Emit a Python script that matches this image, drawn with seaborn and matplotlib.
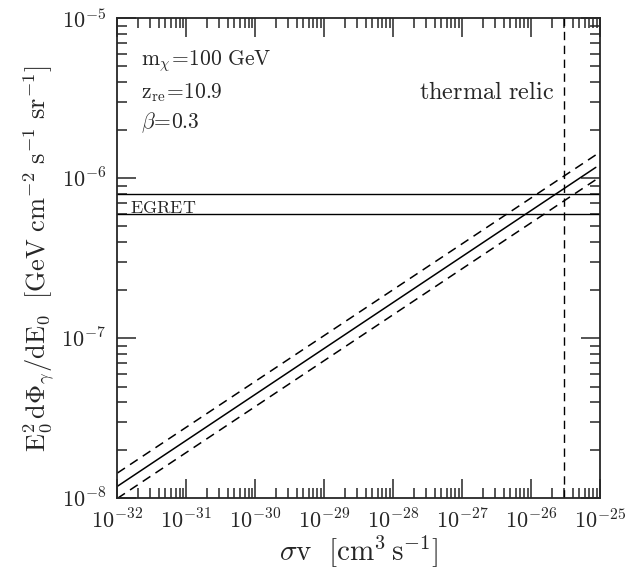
import matplotlib
matplotlib.use("Agg")
import matplotlib.pyplot as plt
import seaborn as sns
import numpy as np
from matplotlib.ticker import LogLocator, NullFormatter

# data
sigma_v = [1e-32, 8.7e-26]
flux_mid = [1.19e-8, 1.17e-6]
flux_hi = [1.44e-8, 1.40e-6]
flux_lo = [1.00e-8, 0.98e-6]
egret_levels = [8.0e-7, 6.0e-7]
thermal_relic = 3.0e-26

sns.set_theme(style="ticks")
plt.rcParams["mathtext.fontset"] = "cm"
plt.rcParams["font.family"] = ["DejaVu Serif"]
plt.rcParams["axes.linewidth"] = 1.3

fig, ax = plt.subplots(figsize=(6.41, 5.69), dpi=100)
fig.subplots_adjust(left=0.183, right=0.936, top=0.968, bottom=0.124)

sns.lineplot(x=sigma_v, y=flux_mid, ax=ax, color="black", lw=1.1)
sns.lineplot(x=sigma_v, y=flux_hi, ax=ax, color="black", lw=1.1)
sns.lineplot(x=sigma_v, y=flux_lo, ax=ax, color="black", lw=1.1)
ax.lines[1].set_dashes((6, 4))
ax.lines[2].set_dashes((6, 4))
for lev in egret_levels:
    ax.axhline(lev, color="black", lw=1.0)
ax.axvline(thermal_relic, color="black", lw=1.0, dashes=(6, 4))

ax.set_xscale("log")
ax.set_yscale("log")
ax.set_xlim(1e-32, 1e-25)
ax.set_ylim(1e-8, 1e-5)

ax.xaxis.set_minor_locator(LogLocator(base=10, subs=np.arange(2, 10), numticks=20))
ax.xaxis.set_minor_formatter(NullFormatter())
ax.yaxis.set_minor_locator(LogLocator(base=10, subs=np.arange(2, 10), numticks=20))
ax.yaxis.set_minor_formatter(NullFormatter())
ax.tick_params(which="both", direction="in", top=True, right=True, width=1.1)
ax.tick_params(which="major", length=14, labelsize=16, pad=8)
ax.tick_params(which="minor", length=7)
ax.set_xticks([10.0**k for k in range(-32, -24)])
ax.set_xticklabels([r"$10^{%d}$" % k for k in range(-32, -24)])
ax.set_yticks([10.0**k for k in range(-8, -4)])
ax.set_yticklabels([r"$10^{%d}$" % k for k in range(-8, -4)])

ax.set_xlabel(r"$\sigma \mathrm{v}\ \ [\mathrm{cm^3\,s^{-1}}]$", fontsize=21, labelpad=0)
ax.set_ylabel(r"$\mathrm{E_0^2\,d\Phi_\gamma/dE_0}\ \ [\mathrm{GeV\ cm^{-2}\ s^{-1}\ sr^{-1}}]$",
              fontsize=19, labelpad=4)

ax.text(0.05, 0.91, r"$\mathrm{m_\chi\!=\!100\ GeV}$", transform=ax.transAxes, fontsize=15.5, va="center")
ax.text(0.05, 0.845, r"$\mathrm{z_{re}\!=\!10.9}$", transform=ax.transAxes, fontsize=15.5, va="center")
ax.text(0.05, 0.782, r"$\beta\!=\!0.3$", transform=ax.transAxes, fontsize=15.5, va="center")
ax.text(0.905, 0.845, r"$\mathrm{thermal\ relic}$", transform=ax.transAxes, fontsize=17.5, va="center", ha="right")
ax.text(0.027, 0.605, r"$\mathrm{EGRET}$", transform=ax.transAxes, fontsize=13, va="center")

fig.savefig("out.png", dpi=100)
